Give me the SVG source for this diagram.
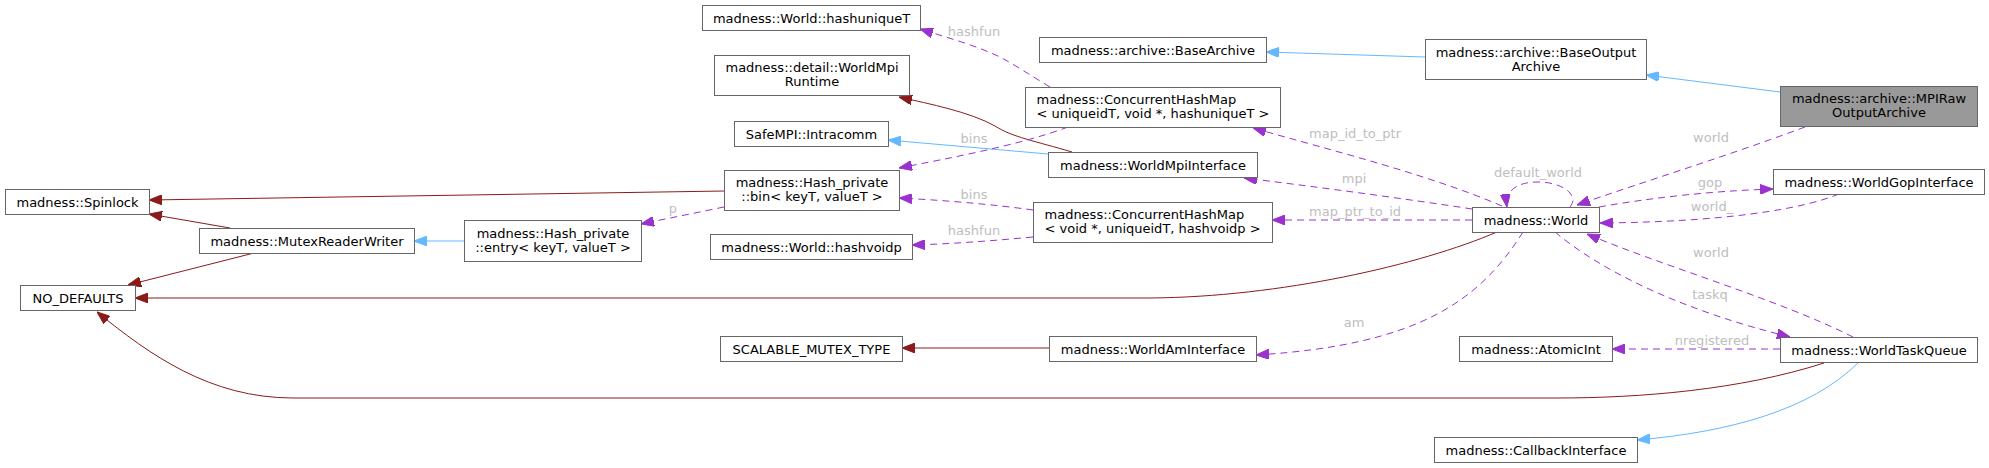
<svg xmlns="http://www.w3.org/2000/svg" width="1989" height="468" viewBox="0 0 1989 468">
<style>
.n rect{fill:#fff;stroke:#666;stroke-width:1}
.n text{font-family:"DejaVu Sans",sans-serif;font-size:13px;fill:#000;text-anchor:middle}
.n text.lft{text-anchor:start}
.sel rect{fill:#999}
.r{stroke:#8B1A1A;fill:none;stroke-width:1}
.b{stroke:#63B8FF;fill:none;stroke-width:1}
.d{stroke:#9A32CD;fill:none;stroke-width:1;stroke-dasharray:7,5}
.lb{font-family:"DejaVu Sans",sans-serif;font-size:13px;fill:#BEBEBE;text-anchor:middle}
</style>
<defs>
<marker id="ar" viewBox="0 0 13 10" refX="13" refY="5" markerWidth="13" markerHeight="10" markerUnits="userSpaceOnUse" orient="auto"><path d="M0,0 L13,5 L0,10 z" fill="#8B1A1A" stroke="#8B1A1A"/></marker>
<marker id="ab" viewBox="0 0 13 10" refX="13" refY="5" markerWidth="13" markerHeight="10" markerUnits="userSpaceOnUse" orient="auto"><path d="M0,0 L13,5 L0,10 z" fill="#63B8FF" stroke="#63B8FF"/></marker>
<marker id="ad" viewBox="0 0 13 10" refX="13" refY="5" markerWidth="13" markerHeight="10" markerUnits="userSpaceOnUse" orient="auto"><path d="M0,0 L13,5 L0,10 z" fill="#9A32CD" stroke="#9A32CD"/></marker>
</defs>
<rect width="1989" height="468" fill="#fff"/>
<g id="edges">
<path class="r" marker-end="url(#ar)" d="M724,191 L149,200"/>
<path class="r" marker-end="url(#ar)" d="M230,228 L149,214"/>
<path class="r" marker-end="url(#ar)" d="M254,253 L128,285"/>
<path class="r" marker-end="url(#ar)" d="M1497,232 C1420,265 1280,297 1150,298 L135,298"/>
<path class="r" marker-end="url(#ar)" d="M1824,363 C1740,390 1640,398 1557,398 L293,398 C210,398 150,355 97,312"/>
<path class="r" marker-end="url(#ar)" d="M1072,152 C1035,141 1012,137 995,126 C970,112 930,104 899,97"/>
<path class="r" marker-end="url(#ar)" d="M1049,348 L902,348"/>
<path class="b" marker-end="url(#ab)" d="M1425,57 L1266,52"/>
<path class="b" marker-end="url(#ab)" d="M1780,92 L1646,75"/>
<path class="b" marker-end="url(#ab)" d="M1048,154 L888,140"/>
<path class="b" marker-end="url(#ab)" d="M464,241 L414,241"/>
<path class="b" marker-end="url(#ab)" d="M1858,363 C1810,410 1730,432 1637,440"/>
<path class="d" marker-end="url(#ad)" d="M1050,87 C1030,75 1015,65 1000,57 C975,45 945,37 920,29"/>
<path class="d" marker-end="url(#ad)" d="M1068,127 C1020,145 950,158 899,168"/>
<path class="d" marker-end="url(#ad)" d="M1033,210 C990,204 940,200 899,198"/>
<path class="d" marker-end="url(#ad)" d="M1033,237 C990,241 950,244 912,245"/>
<path class="d" marker-end="url(#ad)" d="M724,207 C700,212 670,218 641,224"/>
<path class="d" marker-end="url(#ad)" d="M1502,206 C1430,175 1330,150 1253,128"/>
<path class="d" marker-end="url(#ad)" d="M1472,209 C1400,198 1310,186 1244,178"/>
<path class="d" marker-end="url(#ad)" d="M1472,220 L1272,220"/>
<path class="d" marker-end="url(#ad)" d="M1570,207 C1580,195 1562,182 1538,182 C1515,182 1505,192 1507,207"/>
<path class="d" marker-end="url(#ad)" d="M1805,127 C1730,155 1640,183 1577,205"/>
<path class="d" marker-end="url(#ad)" d="M1599,207 C1650,198 1710,191 1773,189"/>
<path class="d" marker-end="url(#ad)" d="M1839,194 C1800,210 1720,222 1600,223"/>
<path class="d" marker-end="url(#ad)" d="M1853,337 C1780,300 1660,265 1587,234"/>
<path class="d" marker-end="url(#ad)" d="M1555,232 C1600,270 1680,310 1790,337"/>
<path class="d" marker-end="url(#ad)" d="M1523,232 C1480,300 1420,345 1256,355"/>
<path class="d" marker-end="url(#ad)" d="M1780,349 L1612,349"/>
<text class="lb" x="974" y="36">hashfun</text>
<text class="lb" x="974" y="143">bins</text>
<text class="lb" x="974" y="199">bins</text>
<text class="lb" x="974" y="235">hashfun</text>
<text class="lb" x="673" y="213">p</text>
<text class="lb" x="1355" y="138">map_id_to_ptr</text>
<text class="lb" x="1354" y="183">mpi</text>
<text class="lb" x="1355" y="216">map_ptr_to_id</text>
<text class="lb" x="1538" y="177">default_world</text>
<text class="lb" x="1711" y="142">world</text>
<text class="lb" x="1710" y="187">gop</text>
<text class="lb" x="1712" y="211">world_</text>
<text class="lb" x="1711" y="257">world</text>
<text class="lb" x="1710" y="299">taskq</text>
<text class="lb" x="1354" y="327">am</text>
<text class="lb" x="1712" y="345">nregistered</text>
</g>
<g id="n_hashuniqueT" class="n"><rect x="702.5" y="5.5" width="218" height="25"/><text x="811.5" y="22.5">madness::World::hashuniqueT</text></g>
<g id="n_BaseArchive" class="n"><rect x="1039.5" y="37.5" width="227" height="25"/><text x="1153" y="54.5">madness::archive::BaseArchive</text></g>
<g id="n_BaseOutputArchive" class="n"><rect x="1425.5" y="39.5" width="221" height="40"/><text x="1536" y="56.5">madness::archive::BaseOutput</text><text x="1536" y="70.5">Archive</text></g>
<g id="n_MPIRawOutputArchive" class="n sel"><rect x="1780.5" y="86.5" width="197" height="40"/><text x="1879" y="102.5">madness::archive::MPIRaw</text><text x="1879" y="116.5">OutputArchive</text></g>
<g id="n_WorldMpiRuntime" class="n"><rect x="714.5" y="55.5" width="195" height="40"/><text x="812" y="71.5">madness::detail::WorldMpi</text><text x="812" y="85.5">Runtime</text></g>
<g id="n_CHM1" class="n"><rect x="1025.5" y="87.5" width="255" height="40"/><text class="lft" x="1036.5" y="103.5">madness::ConcurrentHashMap</text><text class="lft" x="1036.5" y="117.5">&lt; uniqueidT, void *, hashuniqueT &gt;</text></g>
<g id="n_Intracomm" class="n"><rect x="734.5" y="121.5" width="154" height="25"/><text x="811.5" y="138.5">SafeMPI::Intracomm</text></g>
<g id="n_WorldMpiInterface" class="n"><rect x="1048.5" y="152.5" width="209" height="25"/><text x="1153" y="169.5">madness::WorldMpiInterface</text></g>
<g id="n_HashBin" class="n"><rect x="724.5" y="170.5" width="175" height="40"/><text x="812" y="186.5">madness::Hash_private</text><text x="812" y="200.5">::bin&lt; keyT, valueT &gt;</text></g>
<g id="n_Spinlock" class="n"><rect x="5.5" y="189.5" width="144" height="25"/><text x="77.5" y="206.5">madness::Spinlock</text></g>
<g id="n_MutexReaderWriter" class="n"><rect x="199.5" y="228.5" width="215" height="25"/><text x="307" y="245.5">madness::MutexReaderWriter</text></g>
<g id="n_HashEntry" class="n"><rect x="464.5" y="220.5" width="177" height="41"/><text x="553" y="237.5">madness::Hash_private</text><text x="553" y="251.5">::entry&lt; keyT, valueT &gt;</text></g>
<g id="n_hashvoidp" class="n"><rect x="710.5" y="234.5" width="202" height="25"/><text x="811.5" y="251.5">madness::World::hashvoidp</text></g>
<g id="n_CHM2" class="n"><rect x="1033.5" y="202.5" width="239" height="40"/><text class="lft" x="1044.5" y="218.5">madness::ConcurrentHashMap</text><text class="lft" x="1044.5" y="232.5">&lt; void *, uniqueidT, hashvoidp &gt;</text></g>
<g id="n_NO_DEFAULTS" class="n"><rect x="20.5" y="285.5" width="115" height="25"/><text x="78" y="302.5">NO_DEFAULTS</text></g>
<g id="n_World" class="n"><rect x="1472.5" y="207.5" width="127" height="25"/><text x="1536" y="224.5">madness::World</text></g>
<g id="n_WorldGopInterface" class="n"><rect x="1773.5" y="169.5" width="211" height="25"/><text x="1879" y="186.5">madness::WorldGopInterface</text></g>
<g id="n_SCALABLE_MUTEX_TYPE" class="n"><rect x="720.5" y="336.5" width="182" height="25"/><text x="811.5" y="353.5">SCALABLE_MUTEX_TYPE</text></g>
<g id="n_WorldAmInterface" class="n"><rect x="1049.5" y="336.5" width="207" height="25"/><text x="1153" y="353.5">madness::WorldAmInterface</text></g>
<g id="n_AtomicInt" class="n"><rect x="1459.5" y="336.5" width="153" height="25"/><text x="1536" y="353.5">madness::AtomicInt</text></g>
<g id="n_WorldTaskQueue" class="n"><rect x="1780.5" y="337.5" width="197" height="25"/><text x="1879" y="354.5">madness::WorldTaskQueue</text></g>
<g id="n_CallbackInterface" class="n"><rect x="1434.5" y="437.5" width="203" height="25"/><text x="1536" y="454.5">madness::CallbackInterface</text></g>
</svg>
